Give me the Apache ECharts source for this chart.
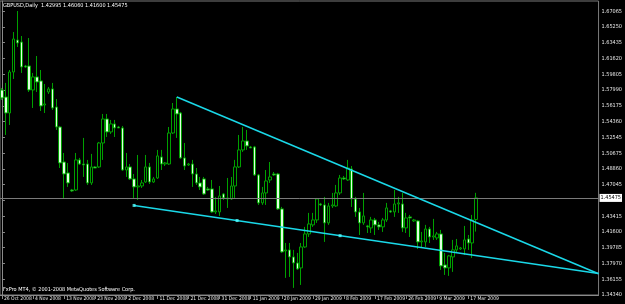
<!DOCTYPE html>
<html>
<head>
<meta charset="utf-8">
<style>html,body{margin:0;padding:0;background:#000;}#c{width:625px;height:304px;}</style>
<script src="https://cdn.jsdelivr.net/npm/echarts@6/dist/echarts.min.js"></script>
</head>
<body>
<div id="c"></div>
<script>
// ---- data ----
const dateTicks = ['26 Oct 2008','4 Nov 2008','13 Nov 2008','23 Nov 2008','2 Dec 2008','11 Dec 2008','21 Dec 2008','31 Dec 2008','11 Jan 2009','20 Jan 2009','29 Jan 2009','8 Feb 2009','17 Feb 2009','26 Feb 2009','9 Mar 2009','17 Mar 2009'];
const priceTicks = ['1.34340','1.36155','1.37970','1.39785','1.41600','1.43415','','1.47045','1.48860','1.50675','1.52545','1.54360','1.56175','1.57990','1.59805','1.61620','1.63435','1.65250','1.67065'];
const openP = [1.5790,1.5709,1.5525,1.5997,1.6365,1.6342,1.6066,1.6066,1.5790,1.5940,1.5894,1.5617,1.5767,1.5802,1.5594,1.5364,1.4961,1.4835,1.4639,1.4639,
1.4985,1.4938,1.4938,1.4720,1.4904,1.4904,1.5180,1.5456,1.5307,1.5399,1.5364,1.5353,1.4869,1.4904,1.4766,1.4674,1.4685,1.4731,1.4904,1.4731,
1.4777,1.5019,1.4938,1.4938,1.5295,1.5571,1.5525,1.5008,1.4927,1.4938,1.4823,1.4720,1.4766,1.4651,1.4651,1.4386,1.4386,1.4593,1.4536,1.4536,
1.4685,1.4904,1.5100,1.5203,1.5134,1.5134,1.4812,1.4490,1.4605,1.4754,1.4823,1.4823,1.4421,1.3937,1.3949,1.3868,1.3799,1.3742,1.3983,1.4133,
1.4237,1.4294,1.4478,1.4467,1.4260,1.4455,1.4455,1.4605,1.4777,1.4754,1.4881,1.4536,1.4386,1.4260,1.4225,1.4202,1.4294,1.4237,1.4214,1.4294,
1.4398,1.4386,1.4478,1.4478,1.4202,1.4329,1.4283,1.4283,1.4041,1.4041,1.4190,1.4098,1.4087,1.4133,1.3776,1.3742,1.3868,1.3949,1.3960,1.3960,
1.4075,1.4029,1.42995];
const highP = [1.5813,1.5871,1.6020,1.6457,1.6699,1.6411,1.6078,1.6388,1.5986,1.6181,1.6020,1.5859,1.5824,1.5871,1.5686,1.5376,1.5065,1.4950,1.4651,1.5065,
1.5008,1.5238,1.4985,1.5054,1.4915,1.5192,1.5514,1.5514,1.5445,1.5445,1.5376,1.5376,1.5065,1.4938,1.4823,1.5042,1.4754,1.5042,1.4950,1.4789,
1.5100,1.5100,1.4961,1.5364,1.5640,1.5709,1.5537,1.5180,1.4950,1.4985,1.4892,1.4789,1.4789,1.4674,1.4754,1.4559,1.4685,1.4605,1.4777,1.4789,
1.4985,1.5272,1.5364,1.5330,1.5146,1.5146,1.4823,1.4674,1.4869,1.4961,1.4846,1.4835,1.4444,1.4029,1.4029,1.3949,1.3914,1.4029,1.4214,1.4375,
1.4375,1.4547,1.4490,1.4559,1.4490,1.4605,1.4697,1.4812,1.4800,1.4985,1.4915,1.4559,1.4432,1.4605,1.4237,1.4329,1.4317,1.4271,1.4317,1.4490,
1.4409,1.4639,1.4559,1.4605,1.4375,1.4352,1.4306,1.4294,1.4156,1.4237,1.4214,1.4306,1.4156,1.4179,1.3914,1.3891,1.4064,1.4075,1.3983,1.4225,
1.4121,1.4352,1.46060];
const lowP = [1.5675,1.5272,1.5387,1.5917,1.6285,1.5986,1.6043,1.5767,1.5583,1.5767,1.5548,1.5525,1.5744,1.5560,1.5330,1.4892,1.4547,1.4674,1.4616,1.4628,
1.4927,1.4789,1.4697,1.4697,1.4892,1.4892,1.4985,1.5249,1.5284,1.5249,1.5353,1.4860,1.4789,1.4754,1.4547,1.4524,1.4662,1.4720,1.4708,1.4720,
1.4766,1.4869,1.4915,1.4927,1.5284,1.5238,1.4997,1.4869,1.4915,1.4674,1.4697,1.4639,1.4582,1.4628,1.4375,1.4363,1.4340,1.4524,1.4432,1.4524,
1.4547,1.4892,1.5077,1.5100,1.5123,1.4800,1.4467,1.4467,1.4467,1.4720,1.4800,1.4409,1.3914,1.3627,1.3638,1.3512,1.3719,1.3546,1.3972,1.4098,
1.4214,1.4260,1.4455,1.4041,1.4237,1.4432,1.4444,1.4582,1.4754,1.4743,1.4444,1.4329,1.4121,1.4237,1.4144,1.4144,1.4121,1.4179,1.4156,1.4271,
1.4375,1.4329,1.4375,1.4156,1.4144,1.4098,1.4271,1.3960,1.3972,1.3983,1.4029,1.4064,1.4064,1.3719,1.3661,1.3650,1.3696,1.3914,1.3949,1.3891,
1.3949,1.3857,1.41600];
const closeP = [1.5698,1.5525,1.5997,1.6377,1.6331,1.6055,1.6055,1.5790,1.5940,1.5882,1.5606,1.5629,1.5802,1.5583,1.5364,1.4950,1.4823,1.4720,1.4628,1.4985,
1.4938,1.4927,1.4720,1.4904,1.4892,1.5180,1.5456,1.5307,1.5399,1.5353,1.5353,1.4869,1.4904,1.4766,1.4674,1.4685,1.4720,1.4904,1.4731,1.4766,
1.5031,1.4938,1.4950,1.5295,1.5571,1.5514,1.5008,1.4915,1.4938,1.4823,1.4720,1.4674,1.4593,1.4639,1.4386,1.4398,1.4570,1.4547,1.4547,1.4685,
1.4904,1.5100,1.5203,1.5146,1.5123,1.4812,1.4490,1.4605,1.4743,1.4789,1.4812,1.4421,1.3926,1.3949,1.3868,1.3799,1.3730,1.3983,1.4133,1.4248,
1.4294,1.4536,1.4467,1.4260,1.4455,1.4467,1.4605,1.4777,1.4766,1.4892,1.4536,1.4386,1.4260,1.4340,1.4214,1.4294,1.4237,1.4214,1.4294,1.4432,
1.4386,1.4478,1.4490,1.4202,1.4317,1.4317,1.4294,1.4041,1.4052,1.4190,1.4098,1.4110,1.4133,1.3765,1.3742,1.3880,1.3949,1.3995,1.3972,1.4064,
1.4029,1.4294,1.45475];
const currentPrice = 1.45475;
// trend lines: [bar index, price]
const upperTrend = [[45, 1.5709], [153.5, 1.3674]];
const lowerTrend = [[34, 1.4461], [153.5, 1.3677]];
const lowerTrendMarks = [[34, 1.4461], [60.5, 1.4287], [87, 1.4113]];
const titleText = 'GBPUSD,Daily  1.42995 1.46060 1.41600 1.45475';
const copyrightText = 'FxPro MT4, \u00a9 2001-2008 MetaQuotes Software Corp.';
const slotCount = 154;
const tickEvery = 8;
const categories = Array.from({length: slotCount}, (_, i) => String(i));

// ---- chart ----
const yMin = 1.3430, yBase = 1.3431, yStep = 0.01815, yMax = 1.68142;
const candles = openP.map((o, i) => [o, closeP[i], lowP[i], highP[i]]);
const FONT = '"Liberation Sans Narrow", "DejaVu Sans Condensed", "Liberation Sans"';
const chart = echarts.init(document.getElementById('c'), null, {renderer: 'canvas'});
const isTick = (i) => i % tickEvery === 0 && (i / tickEvery) < dateTicks.length;
chart.setOption({
  animation: false,
  backgroundColor: '#000000',
  grid: {left: 0, right: 20, top: 1, bottom: 9, show: true, borderColor: '#7a7a7a', borderWidth: 1, backgroundColor: 'transparent'},
  xAxis: [{
    type: 'category', data: categories, boundaryGap: true,
    axisLine: {show: true, lineStyle: {color: '#8a8a8a', width: 1}},
    axisTick: {show: true, alignWithLabel: true, interval: (i) => isTick(i), length: 4, lineStyle: {color: '#8a8a8a'}},
    axisLabel: {show: true, interval: (i) => isTick(i), formatter: (v, i) => dateTicks[i / tickEvery] || '',
      align: 'left', margin: 1, padding: [0, 0, 0, 2], color: '#e8e8e8', fontSize: 5, fontFamily: FONT},
    splitLine: {show: false}
  }, {
    type: 'value', min: -0.5, max: slotCount - 0.5, show: false
  }],
  yAxis: {
    type: 'value', position: 'right', min: yMin, max: yMax, interval: yStep, scale: true,
    axisLine: {show: true, lineStyle: {color: '#8a8a8a', width: 1}},
    axisTick: {show: true, length: 3, lineStyle: {color: '#8a8a8a'}},
    axisLabel: {show: true, margin: 3, color: '#e8e8e8', fontSize: 5.5, fontFamily: FONT, showMaxLabel: false, showMinLabel: true,
      formatter: (v) => { const k = Math.round((v - yBase) / yStep); return priceTicks[k] || ''; }},
    splitLine: {show: false}
  },
  series: [{
    type: 'candlestick', xAxisIndex: 0, data: candles, barWidth: 3, clip: false,
    itemStyle: {color: '#000000', color0: '#e0ffe0', borderColor: '#00a000', borderColor0: '#00a000', borderWidth: 1},
    markLine: {
      silent: true, symbol: ['none', 'none'], precision: 5,
      lineStyle: {color: '#7a7a7a', type: 'solid', width: 1},
      label: {show: true, position: 'end', distance: 1, formatter: (p) => Number(p.value).toFixed(5),
        backgroundColor: '#ffffff', color: '#000000', fontSize: 5.5, fontFamily: FONT, padding: [1, 1, 1, 1]},
      data: [{yAxis: currentPrice}]
    }
  }, {
    type: 'line', xAxisIndex: 1, data: upperTrend, symbol: 'none', lineStyle: {color: '#1ad8e8', width: 1.5}, z: 5
  }, {
    type: 'line', xAxisIndex: 1, data: lowerTrend, symbol: 'none', lineStyle: {color: '#1ad8e8', width: 1.5}, z: 5
  }, {
    type: 'scatter', xAxisIndex: 1, data: lowerTrendMarks, symbol: 'rect', symbolSize: 3,
    itemStyle: {color: '#5ff'}, z: 6
  }],
  graphic: [
    {type: 'text', left: 3, top: 3, style: {text: titleText, fill: '#ffffff', font: '5.5px ' + FONT}, z: 100},
    {type: 'text', left: 3, top: 287, style: {text: copyrightText, fill: '#ffffff', font: '5.5px ' + FONT}, z: 100}
  ]
});
</script>
</body>
</html>
